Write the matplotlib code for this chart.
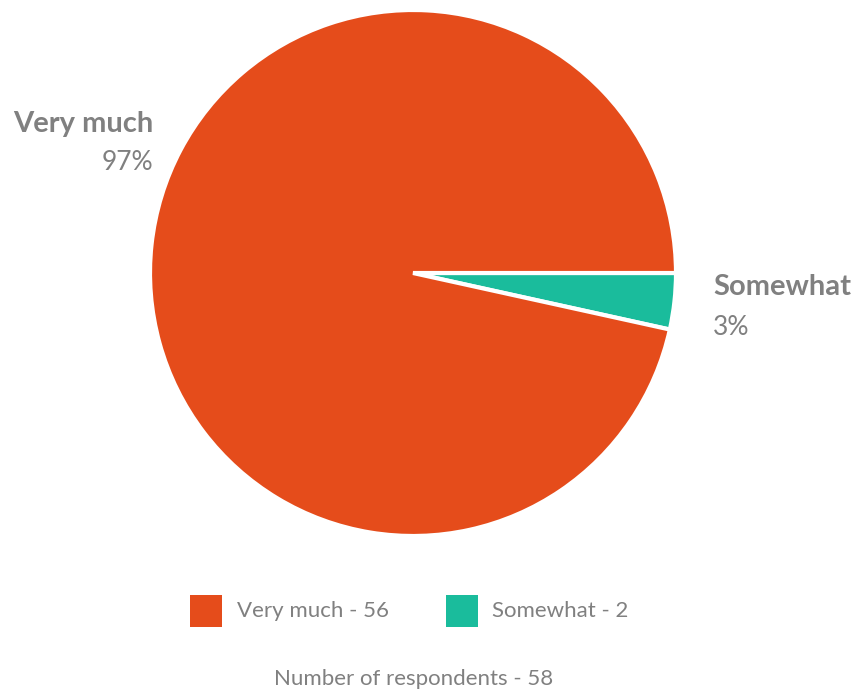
import matplotlib.pyplot as plt
from matplotlib.patches import Rectangle

categories = ['Very much', 'Somewhat']
counts = [56, 2]
colors = ['#E54C1B', '#1ABC9C']
total = sum(counts)

W, H = 855, 691
fig = plt.figure(figsize=(W / 100, H / 100), dpi=100)
plt.rcParams['font.family'] = ['Lato', 'DejaVu Sans']
grey = '#808080'


def px(x, y):
    return x / W, 1 - y / H


# pie: centre (413, 273), radius ~262 px
cx, cy, r = 413, 273, 263
ax = fig.add_axes([(cx - r) / W, (H - cy - r) / H, 2 * r / W, 2 * r / H])
# Somewhat first, clockwise from 3 o'clock
ax.pie(counts[::-1], colors=colors[::-1], startangle=0, counterclock=False,
       wedgeprops=dict(edgecolor='white', linewidth=3))
ax.set_xlim(-1, 1)
ax.set_ylim(-1, 1)
ax.set_aspect('equal')
ax.axis('off')

pcts = [round(c / total * 100) for c in counts]

# outside labels
fig.text(*px(153, 124), categories[0], ha='right', va='center',
         fontsize=21, fontweight='bold', color=grey)
fig.text(*px(153, 163), f'{pcts[0]}%', ha='right', va='center',
         fontsize=19, color=grey)
fig.text(*px(713, 287), categories[1], ha='left', va='center',
         fontsize=21, fontweight='bold', color=grey)
fig.text(*px(713, 327), f'{pcts[1]}%', ha='left', va='center',
         fontsize=19, color=grey)

# legend
for (sx, tx), name, n, col in zip([(190, 237), (446, 492)], categories, counts, colors):
    x0, y0 = px(sx, 627)
    fig.add_artist(Rectangle((x0, y0), 32 / W, 32 / H, transform=fig.transFigure,
                             facecolor=col, edgecolor='none'))
    fig.text(*px(tx, 611), f'{name} - {n}', ha='left', va='center',
             fontsize=16, color=grey)

fig.text(*px(414, 679), f'Number of respondents - {total}', ha='center',
         va='center', fontsize=16, color=grey)

fig.savefig('out.png', dpi=100)
